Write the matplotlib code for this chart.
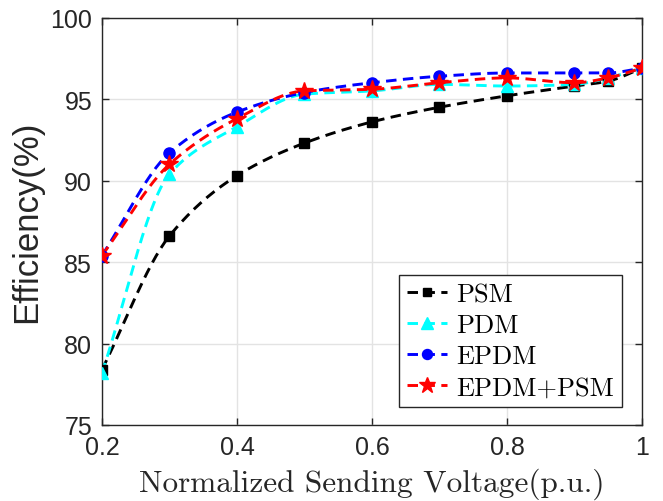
import numpy as np
import matplotlib
matplotlib.use('Agg')
import matplotlib.pyplot as plt
from matplotlib.lines import Line2D

# voltage points (p.u.)
voltage = [0.2, 0.3, 0.4, 0.5, 0.6, 0.7, 0.8, 0.9, 0.95, 1.0]

# efficiency (%)
psm = [78.4, 86.6, 90.3, 92.3, 93.6, 94.5, 95.2, 95.8, 96.1, 96.9]
pdm = [78.2, 90.4, 93.3, 95.3, 95.5, 95.9, 95.8, 95.9, 96.3, 96.9]
epdm = [85.4, 91.7, 94.2, 95.4, 96.0, 96.4, 96.6, 96.6, 96.6, 96.9]
epdm_psm = [85.4, 91.0, 93.8, 95.5, 95.6, 96.0, 96.3, 96.0, 96.3, 96.9]

names = ['PSM', 'PDM', 'EPDM', 'EPDM+PSM']
colors = ['black', 'cyan', 'blue', 'red']
markers = ['s', '^', 'o', '*']
msizes = [7, 9, 8, 13]


def pchip_line(x, y, n=30):
    # shape preserving cubic, only used to draw the smooth connecting line
    x = np.asarray(x, float)
    y = np.asarray(y, float)
    h = np.diff(x)
    d = np.diff(y) / h
    m = np.zeros_like(y)
    for k in range(1, len(x) - 1):
        if d[k - 1] * d[k] > 0:
            w1 = 2 * h[k] + h[k - 1]
            w2 = h[k] + 2 * h[k - 1]
            m[k] = (w1 + w2) / (w1 / d[k - 1] + w2 / d[k])
    m[0] = d[0]
    m[-1] = d[-1]
    xs, ys = [], []
    for k in range(len(x) - 1):
        t = np.linspace(0, 1, n, endpoint=(k == len(x) - 2))
        h00 = 2 * t**3 - 3 * t**2 + 1
        h10 = t**3 - 2 * t**2 + t
        h01 = -2 * t**3 + 3 * t**2
        h11 = t**3 - t**2
        xs.append(x[k] + t * h[k])
        ys.append(h00 * y[k] + h10 * h[k] * m[k] + h01 * y[k + 1] + h11 * h[k] * m[k + 1])
    return np.concatenate(xs), np.concatenate(ys)


dash = (0, (3.6, 2.2))

fig = plt.figure(figsize=(6.63, 5.02), dpi=100)
ax = fig.add_axes([0.1538, 0.1514, 0.8145, 0.8116])

handles = []
for vals, name, c, mk, ms in zip([psm, pdm, epdm, epdm_psm], names, colors, markers, msizes):
    sx, sy = pchip_line(voltage, vals)
    ax.plot(sx, sy, color=c, lw=2.1, ls=dash, zorder=3)
    ax.plot(voltage, vals, ls='none', marker=mk, ms=ms, color=c, zorder=4)
    handles.append(Line2D([], [], color=c, lw=2.1, ls=dash,
                          marker=mk, ms=ms * 0.9, label=name))

ax.set_xlim(0.2, 1.0)
ax.set_ylim(75, 100)
ax.set_xticks([0.2, 0.4, 0.6, 0.8, 1.0])
ax.set_xticklabels(['0.2', '0.4', '0.6', '0.8', '1'])
ax.set_yticks([75, 80, 85, 90, 95, 100])
ax.grid(True, color='#e3e3e3', lw=1)
ax.set_axisbelow(True)
ax.tick_params(direction='in', top=True, right=True, length=5, width=1,
               labelsize=18, colors='#262626', pad=7)
for lab in ax.get_xticklabels() + ax.get_yticklabels():
    lab.set_family('Liberation Sans')
for s in ax.spines.values():
    s.set_color('#262626')
    s.set_linewidth(1)

ax.set_xlabel('Normalized Sending Voltage(p.u.)', fontsize=22.5, family='cmr10',
              color='#262626', labelpad=6)
ax.set_ylabel('Efficiency(%)', fontsize=25, family='Liberation Sans', color='#262626', labelpad=5)

leg = ax.legend(handles=handles, loc='lower right', bbox_to_anchor=(0.972, 0.03),
                prop={'family': 'cmr10', 'size': 19}, handlelength=1.5, handletextpad=0.35,
                borderpad=0.3, labelspacing=0.28, borderaxespad=0.2,
                fancybox=False, framealpha=1)
leg.get_frame().set_edgecolor('#262626')
leg.get_frame().set_linewidth(1)

fig.savefig('out.png', dpi=100)
